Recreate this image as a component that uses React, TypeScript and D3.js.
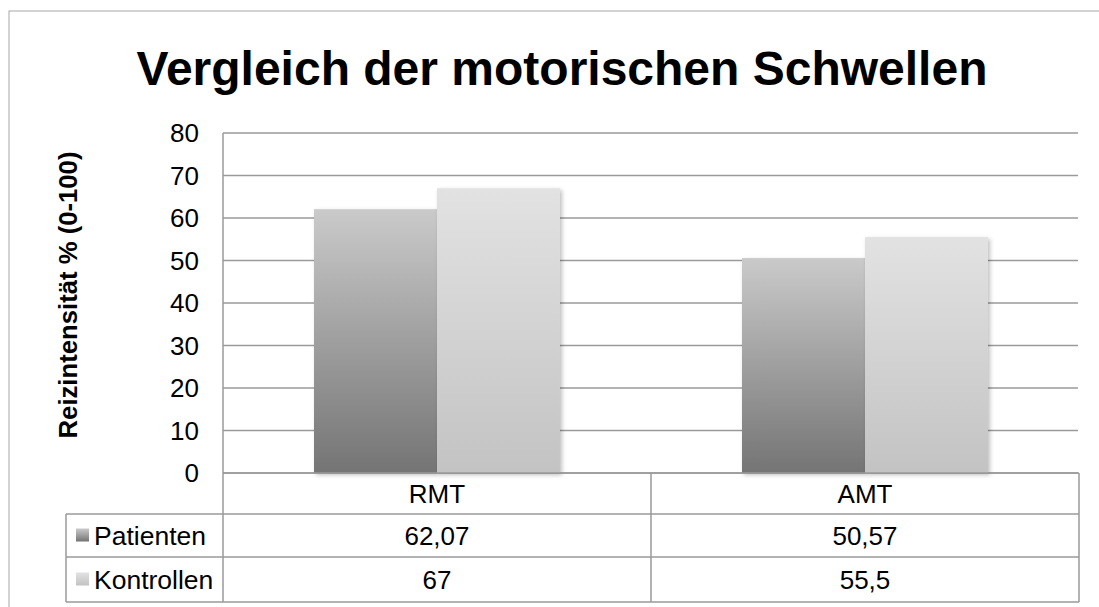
import React from "react";
import * as d3 from "d3";

const categories = ["RMT", "AMT"];
const seriesNames = ["Patienten", "Kontrollen"];
const patienten = [62.07, 50.57];
const kontrollen = [67, 55.5];
const patientenLabels = ["62,07", "50,57"];
const kontrollenLabels = ["67", "55,5"];
const yTicks = [0, 10, 20, 30, 40, 50, 60, 70, 80];

const W = 1099;
const H = 607;
const plotLeft = 223;
const plotRight = 1079;
const plotTop = 133;
const plotBottom = 473;
const tableLeft = 66;
const rowBottoms = [514, 557, 602];
const FONT = "'Liberation Sans', Arial, sans-serif";

export default function App() {
  const y = d3.scaleLinear().domain([0, 80]).range([plotBottom, plotTop]);
  const x = d3.scaleBand<string>().domain(categories).range([plotLeft, plotRight]).paddingInner(0).paddingOuter(0);
  const xs = d3.scaleBand<string>().domain(seriesNames).range([0, x.bandwidth()]).paddingInner(0).paddingOuter(0.74);
  const series = [
    { name: seriesNames[0], values: patienten, labels: patientenLabels, grad: "gradP" },
    { name: seriesNames[1], values: kontrollen, labels: kontrollenLabels, grad: "gradK" },
  ];
  const lineColor = "#9a9a9a";
  return (
    <svg width={W} height={H} style={{ position: "absolute", left: 0, top: 0, background: "#fff" }}>
      <defs>
        <linearGradient id="gradP" x1="0" y1="0" x2="0" y2="1">
          <stop offset="0" stopColor="#cacaca" />
          <stop offset="1" stopColor="#747474" />
        </linearGradient>
        <linearGradient id="gradK" x1="0" y1="0" x2="0" y2="1">
          <stop offset="0" stopColor="#e2e2e2" />
          <stop offset="1" stopColor="#c3c3c3" />
        </linearGradient>
        <filter id="shadow" x="-10%" y="-10%" width="130%" height="130%">
          <feDropShadow dx="2" dy="2" stdDeviation="2" floodColor="#000" floodOpacity="0.25" />
        </filter>
      </defs>
      <rect x={9} y={11} width={1200} height={700} fill="#fff" stroke="#a8a8a8" strokeWidth={1} />
      <text x={562} y={85} textAnchor="middle" fontFamily={FONT} fontWeight="bold" fontSize={48} fill="#000">
        Vergleich der motorischen Schwellen
      </text>
      {/* gridlines */}
      {yTicks.map((t) => (
        <line key={t} x1={plotLeft} x2={plotRight - 1} y1={y(t)} y2={y(t)} stroke={lineColor} strokeWidth={1.5} />
      ))}
      {/* tick labels */}
      {yTicks.map((t) => (
        <text key={"l" + t} x={199} y={y(t)} dy="0.36em" textAnchor="end" fontFamily={FONT} fontSize={26} fill="#000">
          {t}
        </text>
      ))}
      <text
        transform={`translate(77,${(plotTop + plotBottom) / 2 - 8}) rotate(-90)`}
        textAnchor="middle"
        fontFamily={FONT}
        fontWeight="bold"
        fontSize={25.7}
        fill="#000"
      >
        Reizintensität % (0-100)
      </text>
      {/* bars */}
      {series.map((s) =>
        categories.map((c, i) => (
          <rect
            key={s.name + c}
            x={(x(c) as number) + (xs(s.name) as number)}
            y={y(s.values[i])}
            width={xs.bandwidth()}
            height={y(0) - y(s.values[i])}
            fill={`url(#${s.grad})`}
            filter="url(#shadow)"
          />
        ))
      )}
      {/* axis & table lines */}
      <line x1={plotLeft} x2={plotLeft} y1={plotTop} y2={rowBottoms[2]} stroke={lineColor} strokeWidth={1.5} />
      <line x1={plotLeft} x2={plotRight} y1={plotBottom} y2={plotBottom} stroke={lineColor} strokeWidth={1.5} />
      {rowBottoms.map((r) => (
        <line key={r} x1={tableLeft} x2={plotRight} y1={r} y2={r} stroke={lineColor} strokeWidth={1.5} />
      ))}
      <line x1={tableLeft} x2={tableLeft} y1={rowBottoms[0]} y2={rowBottoms[2]} stroke={lineColor} strokeWidth={1.5} />
      {categories.map((c) => (
        <line key={"v" + c} x1={(x(c) as number) + x.bandwidth()} x2={(x(c) as number) + x.bandwidth()} y1={plotBottom} y2={rowBottoms[2]} stroke={lineColor} strokeWidth={1.5} />
      ))}
      {/* category labels */}
      {categories.map((c) => (
        <text key={"c" + c} x={(x(c) as number) + x.bandwidth() / 2} y={(plotBottom + rowBottoms[0]) / 2} dy="0.36em" textAnchor="middle" fontFamily={FONT} fontSize={26} fill="#000">
          {c}
        </text>
      ))}
      {/* table rows */}
      {series.map((s, si) => {
        const top = rowBottoms[si];
        const bot = rowBottoms[si + 1];
        const cy = (top + bot) / 2;
        return (
          <g key={"row" + s.name}>
            <rect x={76} y={cy - 7} width={13} height={13} fill={`url(#${s.grad})`} />
            <text x={94} y={cy} dy="0.36em" fontFamily={FONT} fontSize={26.5} fill="#000">
              {s.name}
            </text>
            {categories.map((c, i) => (
              <text key={c} x={(x(c) as number) + x.bandwidth() / 2} y={cy} dy="0.36em" textAnchor="middle" fontFamily={FONT} fontSize={26} fill="#000">
                {s.labels[i]}
              </text>
            ))}
          </g>
        );
      })}
    </svg>
  );
}
